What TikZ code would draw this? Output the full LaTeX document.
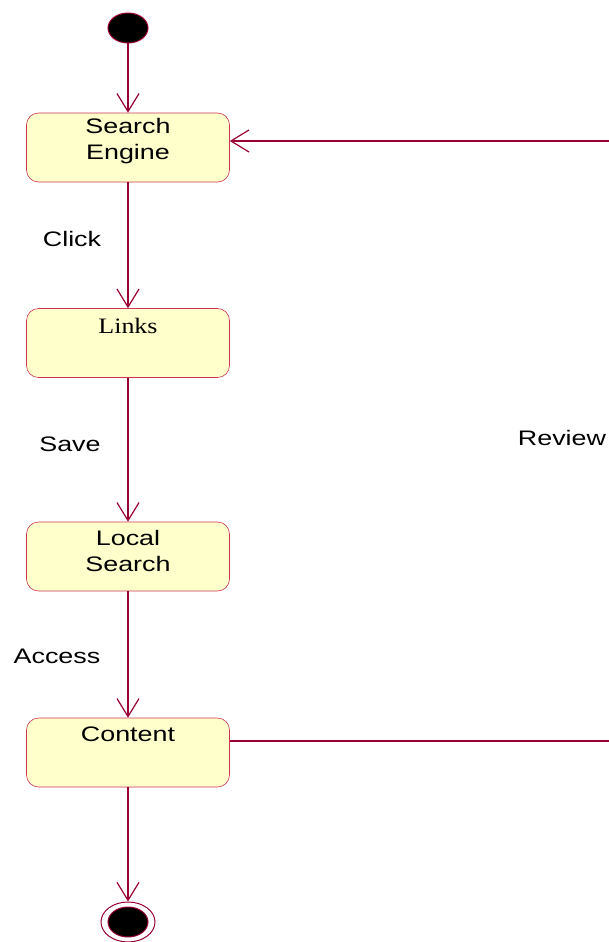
\documentclass[tikz,border=0pt]{standalone}
\usepackage{fontspec}
\setmainfont{Liberation Sans}[FakeStretch=1.28]
\newfontfamily\linksfont{Liberation Serif}[FakeStretch=1.18]
\usepackage{tikz}
\usetikzlibrary{arrows.meta,shapes.geometric,positioning}
\definecolor{umlline}{RGB}{153,0,51}
\definecolor{umlfill}{RGB}{255,255,204}
\definecolor{umlborder}{RGB}{204,51,85}

\begin{document}
\begin{tikzpicture}[x=1pt, y=-1pt,
  state/.style={draw=umlborder, fill=umlfill, rounded corners=12pt,
                minimum width=203pt, minimum height=69pt, inner sep=0pt, line width=0.6pt},
  txt/.style={align=center, inner sep=0pt, font=\fontsize{21}{26}\selectfont},
  dot/.style={ellipse, draw=umlline, fill=black, minimum width=40pt,
              minimum height=30pt, inner sep=0pt, line width=1pt},
  arr/.style={-{Straight Barb[length=18pt,width=22pt]}, draw=umlline, line width=1.2pt},
  flow/.style={draw=umlline, line width=1.2pt}
]
\useasboundingbox (0,0) rectangle (609,942);

% start and end
\node[dot] (start) at (128,28) {};
\node[ellipse, draw=umlline, minimum width=54pt, minimum height=40pt,
      inner sep=0pt, line width=1pt] (final) at (128,922) {};
\node[dot] (finaldot) at (128,922) {};

% states
\node[state] (search)  at (128,147.5) {};
\node[txt]   (searchtxt) at (128,141) {Search\\Engine};
\node[state] (links)   at (128,343) {};
\node[txt, font=\linksfont\fontsize{22}{26}\selectfont] (linkstxt) at (128,326) {Links};
\node[state] (local)   at (128,556.5) {};
\node[txt]   (localtxt) at (128,551) {Local\\Search};
\node[state] (content) at (128,752.5) {};
\node[txt]   (contenttxt) at (128,734) {Content};

% transitions
\draw[arr] (start) -- (search);
\draw[arr] (search) -- (links);
\draw[arr] (links) -- (local);
\draw[arr] (local) -- (content);
\draw[arr] (content) -- (final);

\node[txt] (click)  at (72,239)  {Click};
\node[txt] (save)   at (70,444)  {Save};
\node[txt] (access) at (57,656)  {Access};
\node[txt] (review) at (562,438) {Review};

% review loop leaves the frame on the right
\coordinate (revout) at (609,741);
\coordinate (revin)  at (609,141);
\draw[flow] (content.east |- revout) -- (revout);
\draw[arr] (revin) -- (search.east |- revin);

\end{tikzpicture}
\end{document}
